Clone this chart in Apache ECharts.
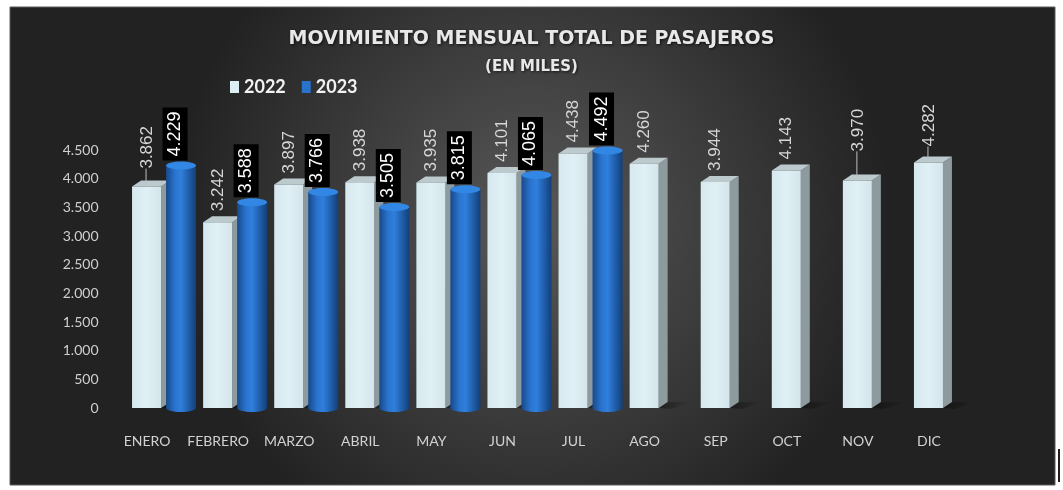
<!DOCTYPE html>
<html>
<head>
<meta charset="utf-8">
<script src="https://cdn.jsdelivr.net/npm/echarts@6/dist/echarts.min.js"></script>
<style>
html,body{margin:0;padding:0;background:#ffffff;}
#chart{width:1063px;height:490px;}
</style>
</head>
<body>
<div id="chart"></div>
<script>
// ---- data ----
const months = ['ENERO','FEBRERO','MARZO','ABRIL','MAY','JUN','JUL','AGO','SEP','OCT','NOV','DIC'];
const pax2022 = [3862, 3242, 3897, 3938, 3935, 4101, 4438, 4260, 3944, 4143, 3970, 4282];
const pax2023 = [4229, 3588, 3766, 3505, 3815, 4065, 4492];
const yMin = 0, yMax = 4500, yStep = 500;
const titleText = 'MOVIMIENTO MENSUAL TOTAL DE PASAJEROS';
const subtitleText = '(EN MILES)';
const seriesNames = ['2022', '2023'];

// ---- label layout tweaks (style, not data) ----
const lift2022 = {0: 7, 10: 18, 11: 5};

function fmt(v){ return String(v).replace(/\B(?=(\d{3})+(?!\d))/g, '.'); }

const chart = echarts.init(document.getElementById('chart'), null, {renderer:'canvas'});

function render2022(params, api){
  const i = api.value(0), v = api.value(1);
  const p = api.coord([i, v]);
  const c = p[0], top = p[1];
  const base = api.coord([i, 0])[1];
  const fl = 15, fr = 14, dx = 9, dy = 6;
  const lift = lift2022[i] || 0;
  const children = [
    {type:'polygon', shape:{points:[[c+fr,base],[c+fr+dx,base-dy],[c+fr+dx+24,base-dy],[c+fr+12,base+1]]},
      style:{fill:new echarts.graphic.LinearGradient(0,0,1,0,[{offset:0,color:'rgba(0,0,0,0.4)'},{offset:1,color:'rgba(0,0,0,0)'}])}},
    {type:'polygon', shape:{points:[[c+fr,top],[c+fr+dx,top-dy],[c+fr+dx,base-dy],[c+fr,base]]},
      style:{fill:'#8d9b9f'}},
    {type:'polygon', shape:{points:[[c-fl,top],[c+fr,top],[c+fr+dx,top-dy],[c-fl+dx,top-dy]]},
      style:{fill:'#bccacd'}},
    {type:'rect', shape:{x:c-fl, y:top, width:fl+fr, height:base-top},
      style:{fill:new echarts.graphic.LinearGradient(0,0,1,0,[{offset:0,color:'#d6e9ef'},{offset:0.5,color:'#e0f0f5'},{offset:1,color:'#d3e5eb'}])}},
    {type:'text', x:c, y:top-11-lift, rotation:Math.PI/2,
      style:{text:fmt(v), fill:'#d6d6d6', font:'17px "Liberation Sans", Arial, sans-serif', align:'left', verticalAlign:'middle'}}
  ];
  if (lift) {
    children.push({type:'line', shape:{x1:c-1, y1:top-11-lift, x2:c-1, y2:top-4},
      style:{stroke:'#bdbdbd', lineWidth:1}});
  }
  return {type:'group', children};
}

function render2023(params, api){
  const i = api.value(0), v = api.value(1);
  const p = api.coord([i, v]);
  const cx = p[0] + 34, top = p[1];
  const base = api.coord([i, 0])[1];
  const r = 15, ry = 4;
  const grad = () => new echarts.graphic.LinearGradient(0,0,1,0,[
    {offset:0,color:'#17498a'},{offset:0.3,color:'#2a74cf'},{offset:0.5,color:'#2f7fdc'},{offset:1,color:'#133f7a'}]);
  return {type:'group', children:[
    {type:'ellipse', shape:{cx:cx, cy:base, rx:r, ry:ry}, style:{fill:grad()}},
    {type:'rect', shape:{x:cx-r, y:top, width:2*r, height:base-top}, style:{fill:grad()}},
    {type:'ellipse', shape:{cx:cx, cy:top, rx:r, ry:ry}, style:{fill:'#3187e3'}},
    {type:'text', x:cx-6, y:top-5, rotation:Math.PI/2,
      style:{text:fmt(v), fill:'#ffffff', font:'18px "Liberation Sans", Arial, sans-serif',
        align:'left', verticalAlign:'middle', backgroundColor:'#000000', padding:[4,4,3,4]}}
  ]};
}

const titleFont = '"DejaVu Sans", sans-serif';
const option = {
  backgroundColor:'#ffffff',
  animation:false,
  graphic:[
    {type:'rect', z:-10, shape:{x:10, y:7, width:1045, height:478},
      style:{fill:new echarts.graphic.RadialGradient(0.5,0.45,0.75,[{offset:0,color:'#585858'},{offset:1,color:'#222222'}]),
        stroke:'#5a5a5a', lineWidth:1}},
    {type:'rect', z:-10, shape:{x:1058, y:449, width:2, height:33}, style:{fill:'#1e1e1e'}}
  ],
  title:[
    {text:titleText, left:'center', top:25,
      textStyle:{color:'#e8e8e8', fontSize:19, fontWeight:'bold', fontFamily:titleFont,
        textShadowColor:'rgba(0,0,0,0.7)', textShadowBlur:3, textShadowOffsetX:1, textShadowOffsetY:1}},
    {text:subtitleText, left:'center', top:55,
      textStyle:{color:'#e8e8e8', fontSize:15, fontWeight:'bold', fontFamily:titleFont,
        textShadowColor:'rgba(0,0,0,0.7)', textShadowBlur:3, textShadowOffsetX:1, textShadowOffsetY:1}}
  ],
  legend:{
    left:225, top:73, itemWidth:9, itemHeight:12, itemGap:16,
    textStyle:{color:'#f2f2f2', fontSize:18, fontWeight:'bold', fontFamily:'Lato, sans-serif'},
    data:[
      {name:seriesNames[0], icon:'rect', itemStyle:{color:'#dcedf3'}},
      {name:seriesNames[1], icon:'rect', itemStyle:{color:'#2a73cc'}}
    ]
  },
  grid:{left:111.5, right:98.5, top:150, bottom:82},
  xAxis:{
    type:'category', data:months,
    axisLine:{show:false}, axisTick:{show:false}, splitLine:{show:false},
    axisLabel:{color:'#d2d2d2', fontSize:14, fontFamily:'Lato, sans-serif', margin:26, interval:0}
  },
  yAxis:{
    type:'value', min:yMin, max:yMax, interval:yStep,
    axisLine:{show:false}, axisTick:{show:false}, splitLine:{show:false},
    axisLabel:{color:'#cfcfcf', fontSize:14, fontFamily:'Lato, sans-serif', margin:13,
      padding:[23,0,0,0], formatter:(v)=>fmt(v)}
  },
  series:[
    {name:seriesNames[0], type:'custom', renderItem:render2022, encode:{x:0, y:1},
      itemStyle:{color:'#dcedf3'}, data:pax2022.map((v,i)=>[i,v]), z:2},
    {name:seriesNames[1], type:'custom', renderItem:render2023, encode:{x:0, y:1},
      itemStyle:{color:'#2a73cc'}, data:pax2023.map((v,i)=>[i,v]), z:3}
  ]
};
chart.setOption(option);
</script>
</body>
</html>
